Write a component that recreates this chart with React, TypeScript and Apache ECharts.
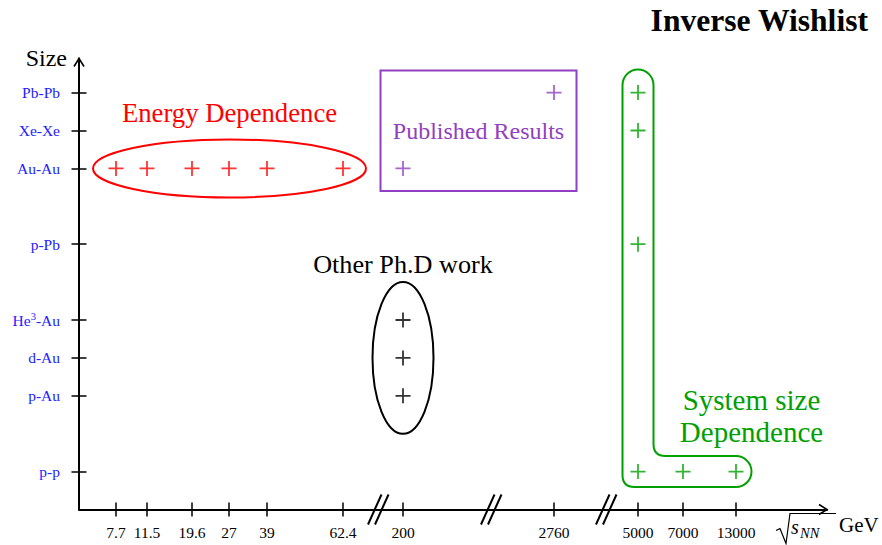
import React, { useEffect, useRef } from 'react';
import * as echarts from 'echarts';

const FONT = "'Liberation Serif', 'Times New Roman', serif";

// Broken energy axis: tick labels and their slot positions along the axis
const energyLabels = ['7.7', '11.5', '19.6', '27', '39', '62.4', '200', '2760', '5000', '7000', '13000'];
const energySlots = [3.7, 6.8, 11.3, 15.0, 18.8, 26.4, 32.4, 47.5, 55.9, 60.4, 65.7];
const breakSlots = [29.9, 41.2, 52.7];
const xMax = 74.8;

// Collision system axis
const systemLabels = ['p-p', 'p-Au', 'd-Au', 'He3-Au', 'p-Pb', 'Au-Au', 'Xe-Xe', 'Pb-Pb'];
const systemLevels = [1, 3, 4, 5, 7, 9, 10, 11];
const yMax = 11.9;

// Series: [energy, system]
const energyDependence = [
  ['7.7', 'Au-Au'], ['11.5', 'Au-Au'], ['19.6', 'Au-Au'], ['27', 'Au-Au'], ['39', 'Au-Au'], ['62.4', 'Au-Au'],
];
const publishedResults = [['200', 'Au-Au'], ['2760', 'Pb-Pb']];
const otherPhdWork = [['200', 'He3-Au'], ['200', 'd-Au'], ['200', 'p-Au']];
const systemSizeDependence = [
  ['5000', 'Pb-Pb'], ['5000', 'Xe-Xe'], ['5000', 'p-Pb'], ['5000', 'p-p'], ['7000', 'p-p'], ['13000', 'p-p'],
];

const RED = '#ff0000';
const PURPLE = '#9040c0';
const GREEN = '#00a000';
const BLUE = '#2222ff';
const BLACK = '#000000';

const toPoint = (p: string[]) => [
  energySlots[energyLabels.indexOf(p[0])],
  systemLevels[systemLabels.indexOf(p[1])],
];

const nearestIndex = (arr: number[], v: number) => {
  let best = 0;
  for (let i = 1; i < arr.length; i++) if (Math.abs(arr[i] - v) < Math.abs(arr[best] - v)) best = i;
  return best;
};

const PLUS = 'path://M6.6,0h1.8v6.6h6.6v1.8h-6.6v6.6h-1.8v-6.6h-6.6v-1.8h6.6z';

const txt = (x: number, y: number, text: string, fill: string, fontSize: number, align = 'center', extra: any = {}) => ({
  type: 'text',
  x,
  y,
  style: {
    text,
    fill,
    fontSize,
    fontFamily: FONT,
    align,
    verticalAlign: 'middle',
    textAlign: align,
    textVerticalAlign: 'middle',
    ...extra,
  },
});

export default function App() {
  const ref = useRef<HTMLDivElement>(null);

  useEffect(() => {
    if (!ref.current) return;
    const chart = echarts.init(ref.current, undefined, { renderer: 'svg' });

    const renderItem = (_params: any, api: any) => {
      const px = (pts: string[][]) => pts.map((p) => api.coord(toPoint(p)));
      const children: any[] = [];

      // Energy dependence ellipse
      const red = px(energyDependence);
      const rMin = Math.min(...red.map((p: number[]) => p[0]));
      const rMax = Math.max(...red.map((p: number[]) => p[0]));
      const rcx = (rMin + rMax) / 2;
      const rcy = red[0][1];
      children.push({
        type: 'ellipse',
        shape: { cx: rcx, cy: rcy, rx: (rMax - rMin) / 2 + 23, ry: 29 },
        style: { fill: 'none', stroke: RED, lineWidth: 2 },
      });
      children.push(txt(rcx, rcy - 55, 'Energy Dependence', RED, 26.7));

      // Published results box
      const pur = px(publishedResults);
      const pxMin = Math.min(...pur.map((p: number[]) => p[0])) - 22.5;
      const pxMax = Math.max(...pur.map((p: number[]) => p[0])) + 22.5;
      const pyMin = Math.min(...pur.map((p: number[]) => p[1])) - 22;
      const pyMax = Math.max(...pur.map((p: number[]) => p[1])) + 22.5;
      children.push({
        type: 'rect',
        shape: { x: pxMin, y: pyMin, width: pxMax - pxMin, height: pyMax - pyMin },
        style: { fill: 'none', stroke: PURPLE, lineWidth: 2 },
      });
      children.push(txt((pxMin + pxMax) / 2, (pyMin + pyMax) / 2, 'Published Results', PURPLE, 24));

      // Other Ph.D work ellipse
      const blk = px(otherPhdWork);
      const bMin = Math.min(...blk.map((p: number[]) => p[1]));
      const bMax = Math.max(...blk.map((p: number[]) => p[1]));
      const bcx = blk[0][0];
      const bcy = (bMin + bMax) / 2;
      const bry = (bMax - bMin) / 2 + 38;
      children.push({
        type: 'ellipse',
        shape: { cx: bcx, cy: bcy, rx: 30.5, ry: bry },
        style: { fill: 'none', stroke: BLACK, lineWidth: 2 },
      });
      children.push(txt(bcx, bcy - bry - 18, 'Other Ph.D work', BLACK, 26.2));

      // System size L-shape
      const grn = px(systemSizeDependence);
      const vx = grn[0][0];
      const topY = Math.min(...grn.map((p: number[]) => p[1])) - 23;
      const hy = Math.max(...grn.map((p: number[]) => p[1]));
      const rightX = Math.max(...grn.map((p: number[]) => p[0])) + 15.5;
      const hw = 15.5;
      const r = 12;
      const L = vx - hw, R = vx + hw, T = hy - hw, B = hy + hw;
      const d =
        `M${L},${topY + hw} A${hw},${hw} 0 0 1 ${R},${topY + hw} L${R},${T - r} Q${R},${T} ${R + r},${T} ` +
        `L${rightX - hw},${T} A${hw},${hw} 0 0 1 ${rightX - hw},${B} L${L + r},${B} Q${L},${B} ${L},${B - r} Z`;
      children.push({
        type: 'path',
        shape: { pathData: d },
        style: { fill: 'none', stroke: GREEN, lineWidth: 2 },
      });
      children.push(txt(rightX, hy - 72, 'System size', GREEN, 29));
      children.push(txt(rightX, hy - 40, 'Dependence', GREEN, 29));

      // Axis breaks
      breakSlots.forEach((bs) => {
        const [cx, cy] = api.coord([bs, 0]);
        [0, 7].forEach((off) => {
          children.push({
            type: 'line',
            shape: { x1: cx - 10 + off, y1: cy + 15, x2: cx + 3.5 + off, y2: cy - 15 },
            style: { stroke: BLACK, lineWidth: 2 },
          });
        });
      });

      // Axis arrows
      const [xt, xty] = api.coord([xMax, 0]);
      children.push({
        type: 'polyline',
        shape: { points: [[xt - 8, xty - 5], [xt, xty], [xt - 8, xty + 5]] },
        style: { stroke: BLACK, lineWidth: 1.6, fill: 'none' },
      });
      const [ytx, yt] = api.coord([0, yMax]);
      children.push({
        type: 'polyline',
        shape: { points: [[ytx - 5, yt + 8], [ytx, yt], [ytx + 5, yt + 8]] },
        style: { stroke: BLACK, lineWidth: 1.6, fill: 'none' },
      });

      // Axis names
      children.push(txt(ytx - 12, yt - 1, 'Size', BLACK, 24, 'right'));
      // sqrt(s_NN) GeV
      const sx = xt - 51;
      const sb = xty + 24; // baseline
      children.push({
        type: 'polyline',
        shape: { points: [[sx, sb - 3], [sx + 4, sb - 5], [sx + 10, sb + 10], [sx + 14, sb - 20], [sx + 60, sb - 20]] },
        style: { stroke: BLACK, lineWidth: 1.2, fill: 'none' },
      });
      children.push(txt(sx + 15, sb - 6.6, 's', BLACK, 20, 'left', { fontStyle: 'italic' }));
      children.push(txt(sx + 24, sb - 0.6, 'NN', BLACK, 14.5, 'left', { fontStyle: 'italic' }));
      children.push(txt(sx + 63, sb - 8.5, 'GeV', BLACK, 21, 'left'));

      // Title
      children.push(txt(868, 20, 'Inverse Wishlist', BLACK, 31.6, 'right', { fontWeight: 'bold' }));

      return { type: 'group', children };
    };

    const scatter = (name: string, pts: string[][], color: string) => ({
      name,
      type: 'scatter',
      data: pts.map(toPoint),
      symbol: PLUS,
      symbolSize: 15,
      itemStyle: { color, borderWidth: 0 },
      silent: true,
      z: 5,
    });

    const xAxisBase = {
      type: 'value',
      min: 0,
      max: xMax,
      position: 'bottom',
      splitLine: { show: false },
    };
    const yAxisBase = {
      type: 'value',
      min: 0,
      max: yMax,
      position: 'left',
      splitLine: { show: false },
    };

    chart.setOption({
      animation: false,
      backgroundColor: '#ffffff',
      grid: { left: 79, right: 55, top: 58.5, bottom: 35.5, containLabel: false },
      xAxis: [
        {
          ...xAxisBase,
          axisLine: { show: true, lineStyle: { color: BLACK, width: 2 } },
          axisTick: { show: true, customValues: energySlots, length: 7, inside: false, lineStyle: { color: BLACK, width: 1.5 } },
          axisLabel: {
            show: true,
            customValues: energySlots,
            formatter: (v: number) => energyLabels[nearestIndex(energySlots, v)],
            color: BLACK,
            fontFamily: FONT,
            fontSize: 15.5,
            margin: 15,
          },
        },
        {
          ...xAxisBase,
          axisLine: { show: false },
          axisTick: { show: true, customValues: energySlots, length: 7, inside: true, lineStyle: { color: BLACK, width: 1.5 } },
          axisLabel: { show: false },
        },
      ],
      yAxis: [
        {
          ...yAxisBase,
          axisLine: { show: true, lineStyle: { color: BLACK, width: 2 } },
          axisTick: { show: true, customValues: systemLevels, length: 7.5, inside: false, lineStyle: { color: BLACK, width: 1.5 } },
          axisLabel: {
            show: true,
            customValues: systemLevels,
            formatter: (v: number) => {
              const s = systemLabels[nearestIndex(systemLevels, v)];
              return s === 'He3-Au' ? 'He{sup|3}-Au' : s;
            },
            color: BLUE,
            fontFamily: FONT,
            fontSize: 15.5,
            margin: 19,
            rich: {
              sup: { fontSize: 10.5, fontFamily: FONT, color: BLUE, padding: [0, 0, 8, 0] },
            },
          },
        },
        {
          ...yAxisBase,
          axisLine: { show: false },
          axisTick: { show: true, customValues: systemLevels, length: 7.5, inside: true, lineStyle: { color: BLACK, width: 1.5 } },
          axisLabel: { show: false },
        },
      ],
      series: [
        {
          type: 'custom',
          data: [[0, 0]],
          renderItem,
          silent: true,
          clip: false,
          z: 3,
        },
        scatter('Energy Dependence', energyDependence, RED),
        scatter('Published Results', publishedResults, PURPLE),
        scatter('Other Ph.D work', otherPhdWork, BLACK),
        scatter('System size Dependence', systemSizeDependence, GREEN),
      ],
    });

    return () => chart.dispose();
  }, []);

  return <div ref={ref} style={{ position: 'fixed', left: 0, top: 0, width: 882, height: 545 }} />;
}
